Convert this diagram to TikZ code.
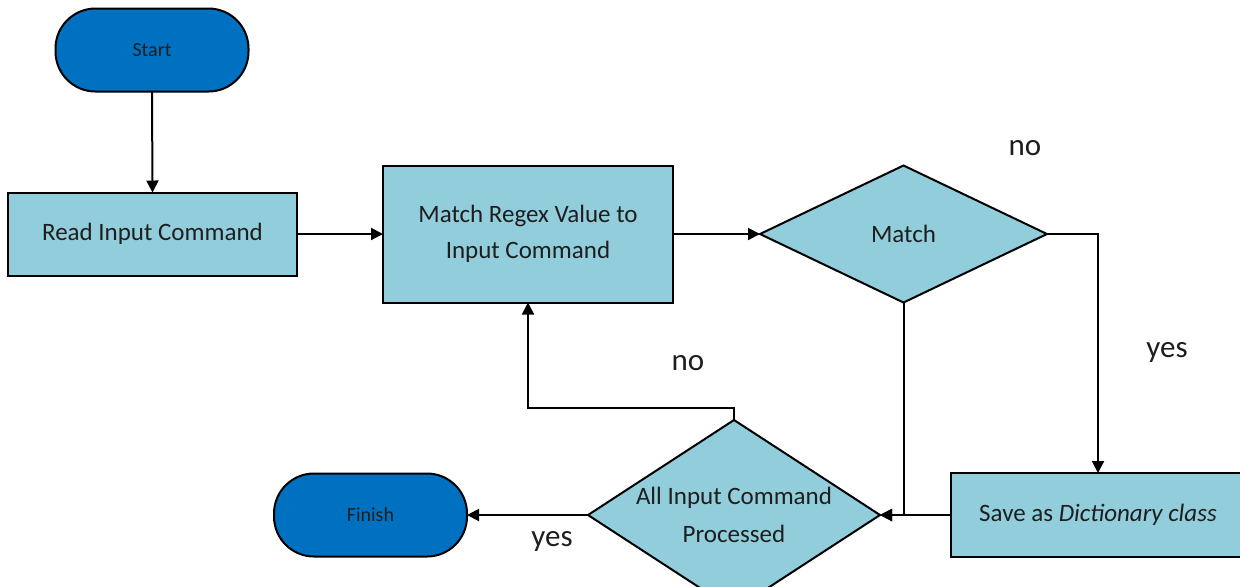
\documentclass[tikz,border=0pt]{standalone}
\usepackage{fontspec}
\setmainfont{Carlito}
\usetikzlibrary{shapes.geometric,arrows.meta}
\definecolor{boxblue}{HTML}{92CDDC}
\definecolor{termblue}{HTML}{0070C0}
\definecolor{txt}{HTML}{1E1E1E}
\tikzset{
  proc/.style={rectangle, draw=black, line width=1pt, fill=boxblue, inner sep=0pt, outer sep=0pt, align=center, text=txt, font=\fontsize{12.5}{18}\selectfont},
  term/.style={rectangle, rounded corners=20pt, draw=black, line width=1pt, fill=termblue, inner sep=0pt, outer sep=0pt, text=txt, font=\fontsize{10}{12}\selectfont, minimum width=96.5pt, minimum height=41.5pt},
  decide/.style={diamond, draw=black, line width=1pt, fill=boxblue, inner sep=0pt, outer sep=0pt},
  dtext/.style={align=center, text=txt, font=\fontsize{12.5}{19}\selectfont},
  lbl/.style={text=txt, font=\fontsize{15.5}{18}\selectfont},
  conn/.style={draw=black, line width=1pt, -{Triangle[length=6pt,width=6pt]}}
}
\begin{document}
\begin{tikzpicture}[x=0.5pt,y=-0.5pt]
\useasboundingbox (0,0) rectangle (1240,586);
\clip (0,0) rectangle (1240,586);
\node[term] (start) at (152,50) {Start};
\node[proc, minimum width=144.5pt, minimum height=41.5pt] (read) at (152.5,234) {Read Input Command};
\node[proc, minimum width=145pt, minimum height=68.5pt] (regex) at (528,234) {Match Regex Value to\\Input Command};
\node[decide, minimum width=143.5pt, minimum height=68.5pt] (match) at (903.5,234) {};
\node[dtext] (matcht) at (match.center) {Match};
\node[proc, minimum width=152pt, minimum height=42pt] (save) at (1103,515) {};
\node[text=txt, font=\fontsize{12.5}{18}\selectfont] (savet) at (1098,515) {Save as \textit{Dictionary class}};
\node[decide, minimum width=146pt, minimum height=95pt] (all) at (734,515) {};
\node[dtext] (allt) at (all.center) {All Input Command\\Processed};
\node[term] (finish) at (370.5,515) {Finish};

\draw[conn] (start.south) -- (read.north);
\draw[conn] (read.east) -- (regex.west);
\draw[conn] (regex.east) -- (match.west);
\draw[conn] (match.east) -| (savet.north |- save.north);
\draw[conn] (match.south) |- (all.east);
\draw[conn] (save.west) -- (all.east);
\coordinate (up) at (734,408);
\draw[conn] (all.north) -- (up) -| (regex.south);
\draw[conn] (all.west) -- (finish.east);

\node[lbl] (no1) at (1025,148) {no};
\node[lbl] (yes1) at (1167,352) {yes};
\node[lbl] (no2) at (688,363) {no};
\node[lbl] (yes2) at (552,541) {yes};
\end{tikzpicture}
\end{document}
